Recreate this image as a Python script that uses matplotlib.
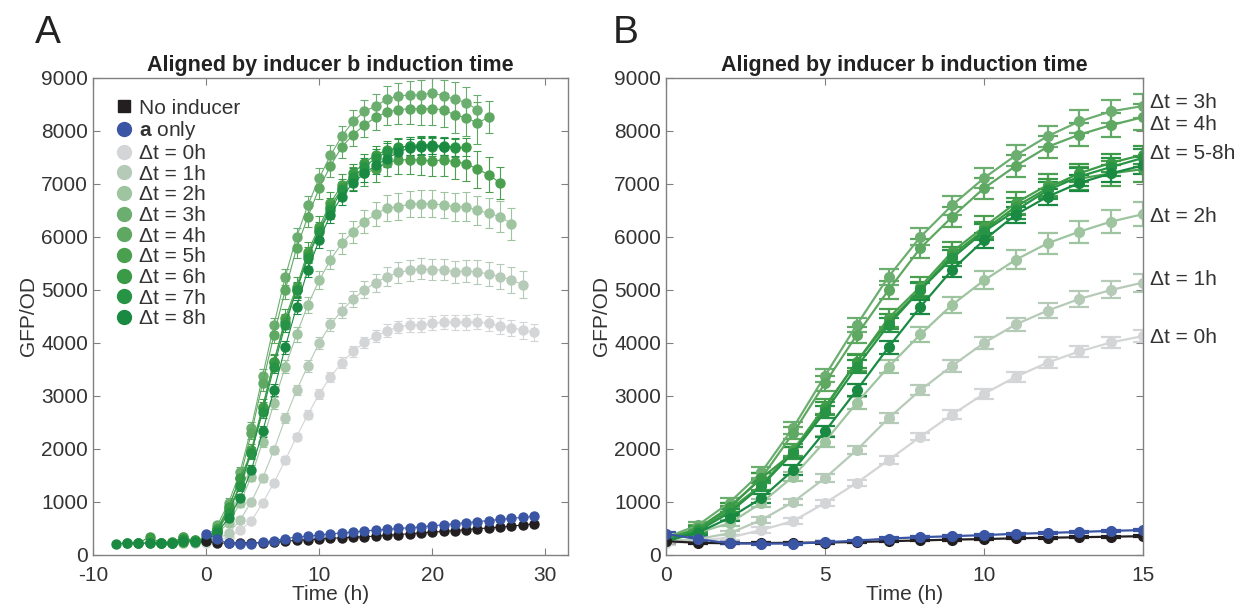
import matplotlib.pyplot as plt
from matplotlib.lines import Line2D

plt.rcParams['font.family'] = ['Liberation Sans', 'DejaVu Sans']
plt.rcParams['mathtext.fontset'] = 'custom'
plt.rcParams['mathtext.rm'] = 'Liberation Sans'
plt.rcParams['mathtext.bf'] = 'Liberation Sans:bold'
plt.rcParams['axes.unicode_minus'] = False

# time (h) relative to inducer b, GFP/OD means and error bars
t_none = list(range(0, 30))
gfp_none = [260, 230, 220, 225, 230, 235, 245, 260, 275, 290, 300, 315, 325, 335, 345,
            355, 370, 385, 400, 415, 430, 445, 460, 480, 495, 510, 525, 545, 565, 590]
err_none = [30, 25, 20, 20, 20, 20, 20, 20, 20, 20, 20, 20, 20, 20, 20,
            20, 20, 20, 20, 20, 20, 20, 20, 20, 20, 20, 20, 25, 25, 25]

t_a = list(range(0, 30))
gfp_a = [400, 300, 220, 215, 215, 240, 270, 310, 335, 355, 375, 400, 415, 435, 455,
         470, 485, 500, 515, 530, 550, 570, 590, 610, 630, 650, 670, 690, 710, 730]
err_a = [40, 30, 20, 20, 20, 20, 20, 20, 20, 20, 20, 20, 20, 20, 20,
         20, 20, 20, 20, 20, 20, 20, 20, 20, 20, 25, 25, 25, 25, 25]

t_0h = list(range(0, 30))
gfp_0h = [220, 270, 330, 470, 640, 980, 1360, 1790, 2230, 2650, 3040, 3360, 3630, 3840, 4010,
          4130, 4230, 4300, 4340, 4340, 4370, 4390, 4390, 4390, 4400, 4370, 4320, 4290, 4240, 4200]
err_0h = [40, 40, 40, 50, 50, 60, 60, 70, 70, 80, 90, 100, 110, 110, 110,
          110, 120, 120, 130, 130, 130, 130, 140, 140, 140, 140, 150, 150, 160, 160]

t_1h = list(range(-1, 29))
gfp_1h = [230, 260, 300, 410, 660, 1000, 1450, 1980, 2580, 3110, 3570, 4000, 4350, 4610, 4830,
          5000, 5140, 5250, 5330, 5370, 5400, 5380, 5380, 5340, 5360, 5340, 5300, 5250, 5190, 5100]
err_1h = [30, 30, 40, 40, 50, 60, 70, 80, 90, 100, 110, 120, 130, 140, 150,
          160, 170, 180, 190, 200, 200, 200, 200, 210, 210, 220, 230, 240, 250, 250]

t_2h = list(range(-2, 28))
gfp_2h = [230, 260, 300, 420, 600, 980, 1480, 2140, 2870, 3550, 4160, 4720, 5180, 5570, 5880,
          6100, 6290, 6430, 6550, 6570, 6620, 6630, 6630, 6600, 6570, 6570, 6500, 6450, 6380, 6250]
err_2h = [30, 30, 40, 40, 60, 70, 90, 100, 110, 120, 140, 150, 170, 180, 200,
          210, 220, 230, 240, 250, 250, 260, 250, 250, 260, 270, 270, 280, 290, 300]

t_3h = list(range(-3, 25))
gfp_3h = [250, 330, 270, 330, 560, 990, 1560, 2400, 3380, 4340, 5250, 6000, 6600, 7110,
          7540, 7900, 8180, 8370, 8470, 8600, 8660, 8680, 8680, 8720, 8660, 8600, 8530, 8400]
err_3h = [30, 40, 30, 40, 60, 80, 100, 110, 120, 140, 150, 160, 180, 190,
          200, 200, 210, 220, 230, 240, 250, 260, 280, 300, 300, 320, 300, 280]

t_4h = list(range(-4, 26))
gfp_4h = [230, 220, 250, 280, 300, 500, 900, 1450, 2300, 3240, 4150, 5000, 5790, 6380, 6920,
          7340, 7700, 7930, 8110, 8260, 8360, 8400, 8420, 8420, 8420, 8400, 8300, 8250, 8150, 8260]
err_4h = [30, 30, 30, 30, 40, 60, 80, 100, 120, 140, 150, 170, 180, 190, 200,
          200, 210, 220, 230, 240, 250, 260, 280, 300, 300, 320, 330, 340, 400, 300]

t_5h = list(range(-5, 27))
gfp_5h = [240, 230, 240, 330, 260, 290, 470, 850, 1320, 1980, 2800, 3640, 4470, 5060, 5720, 6190,
          6640, 6980, 7100, 7200, 7280, 7400, 7450, 7460, 7450, 7440, 7450, 7420, 7380, 7280, 7170, 7020]
err_5h = [30, 30, 30, 40, 30, 40, 60, 80, 100, 120, 140, 160, 170, 180, 190, 200,
          200, 210, 220, 230, 240, 250, 260, 270, 280, 290, 300, 320, 330, 350, 330, 300]

t_6h = list(range(-6, 24))
gfp_6h = [220, 340, 230, 230, 250, 280, 310, 490, 900, 1450, 1930, 2770, 3650, 4400, 5000,
          5660, 6130, 6570, 6920, 7200, 7400, 7550, 7640, 7690, 7710, 7720, 7700, 7690, 7680, 7690]
err_6h = [30, 40, 30, 30, 30, 40, 40, 60, 80, 100, 110, 120, 130, 140, 150,
          150, 160, 160, 170, 170, 170, 170, 170, 170, 170, 170, 170, 170, 170, 170]

t_7h = list(range(-7, 23))
gfp_7h = [230, 220, 230, 220, 230, 300, 260, 280, 450, 800, 1300, 1930, 2700, 3550, 4340,
          5000, 5600, 6100, 6500, 6880, 7140, 7320, 7490, 7600, 7680, 7720, 7740, 7740, 7720, 7700]
err_7h = [30, 30, 30, 30, 30, 40, 30, 40, 50, 70, 90, 100, 110, 120, 130,
          140, 150, 150, 160, 160, 170, 170, 170, 170, 170, 170, 170, 170, 170, 170]

t_8h = list(range(-8, 22))
gfp_8h = [210, 230, 230, 220, 220, 220, 260, 240, 260, 420, 700, 1070, 1600, 2330, 3110,
          3920, 4680, 5380, 5940, 6420, 6760, 7020, 7200, 7350, 7480, 7600, 7680, 7700, 7720, 7700]
err_8h = [30, 30, 30, 30, 30, 30, 30, 30, 40, 50, 60, 80, 90, 100, 110,
          120, 130, 140, 140, 150, 150, 150, 160, 160, 160, 160, 160, 160, 160, 160]

labels = ['No inducer', r'$\mathbf{a}$ only', 'Δt = 0h', 'Δt = 1h', 'Δt = 2h', 'Δt = 3h',
          'Δt = 4h', 'Δt = 5h', 'Δt = 6h', 'Δt = 7h', 'Δt = 8h']
colors = ['#231f20', '#3a55a4', '#d3d5d6', '#b6cab8', '#9ec4a0', '#6cae6f',
          '#5ea862', '#4aa04f', '#3a9a46', '#279445', '#1a8a42']
times = [t_none, t_a, t_0h, t_1h, t_2h, t_3h, t_4h, t_5h, t_6h, t_7h, t_8h]
values = [gfp_none, gfp_a, gfp_0h, gfp_1h, gfp_2h, gfp_3h, gfp_4h, gfp_5h, gfp_6h, gfp_7h, gfp_8h]
errors = [err_none, err_a, err_0h, err_1h, err_2h, err_3h, err_4h, err_5h, err_6h, err_7h, err_8h]

end_labels = ['Δt = 3h', 'Δt = 4h', 'Δt = 5-8h', 'Δt = 2h', 'Δt = 1h', 'Δt = 0h']
end_label_y = [8530, 8130, 7570, 6380, 5190, 4100]

fig = plt.figure(figsize=(12.45, 6.09), dpi=100)
axA = fig.add_axes([0.0747, 0.0887, 0.3815, 0.7833])
axB = fig.add_axes([0.5349, 0.0887, 0.3831, 0.7833])

# plot greens first, controls on top
order = [2, 3, 4, 5, 6, 7, 8, 9, 10, 0, 1]
for i in order:
    axA.errorbar(times[i], values[i], yerr=errors[i], color=colors[i], marker='o',
                 ms=6.5, lw=0.8, elinewidth=0.8, capsize=3, capthick=0.8)
    axB.errorbar(times[i], values[i], yerr=errors[i], color=colors[i], marker='o',
                 ms=7, lw=1.6, elinewidth=1.6, capsize=7, capthick=1.6)

for ax in (axA, axB):
    ax.set_ylim(0, 9000)
    ax.set_yticks(range(0, 9001, 1000))
    ax.tick_params(direction='in', top=True, right=True, length=5, width=0.8,
                   color='#808080', labelcolor='#333333', labelsize=15)
    ax.tick_params(axis='x', pad=8)
    for s in ax.spines.values():
        s.set_color('#808080')
        s.set_linewidth(1.0)
    ax.set_xlabel('Time (h)', fontsize=15, color='#333333', labelpad=0)
    ax.set_ylabel('GFP/OD', fontsize=15, color='#333333', labelpad=2)
    ax.set_title('Aligned by inducer b induction time', fontsize=15.5,
                 fontweight='bold', color='#222222', pad=5)

axA.set_xlim(-10, 32)
axA.set_xticks([-10, 0, 10, 20, 30])
axB.set_xlim(0, 15)
axB.set_xticks([0, 5, 10, 15])

handles = [Line2D([], [], ls='none', marker='s' if i == 0 else 'o', ms=9 if i == 0 else 10,
                  color=colors[i]) for i in range(len(labels))]
axA.legend(handles, labels, loc='upper left', frameon=False, fontsize=15,
           labelspacing=0.08, handletextpad=0.2, handlelength=1.0,
           borderaxespad=0.6, labelcolor='#333333')

for lab, yv in zip(end_labels, end_label_y):
    axB.text(15.22, yv, lab, fontsize=15, va='center', color='#333333', clip_on=False)

fig.text(0.028, 0.975, 'A', fontsize=28, va='top', color='#222222')
fig.text(0.492, 0.975, 'B', fontsize=28, va='top', color='#222222')

fig.savefig('out.png', dpi=100)
